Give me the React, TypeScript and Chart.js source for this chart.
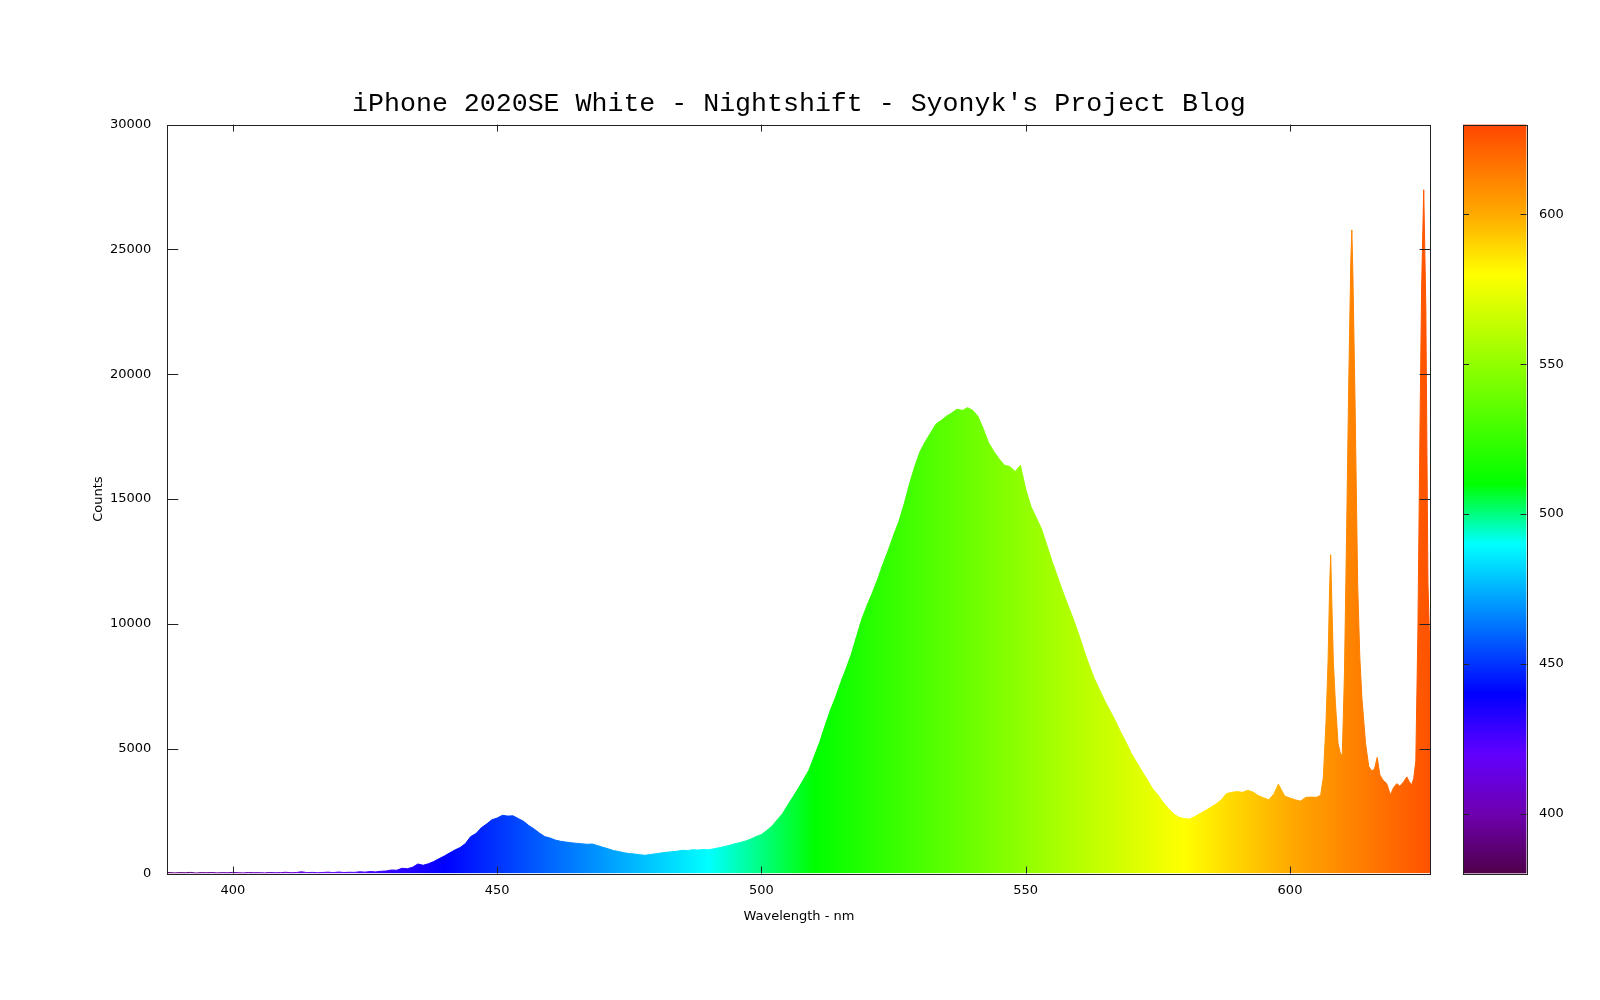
import React, { useEffect, useRef } from "react";
import { Chart, registerables } from "chart.js";

Chart.register(...registerables);

const chartTitle = "iPhone 2020SE White - Nightshift - Syonyk's Project Blog";
const xAxisTitle = "Wavelength - nm";
const yAxisTitle = "Counts";

const wavelengthNm: number[] = [
  387.6, 389, 390, 391, 392, 393, 394, 395, 396, 397, 398, 399, 400, 401, 402, 403, 404, 405, 406, 407, 408, 409,
  410, 411, 412, 413, 414, 415, 416, 417, 418, 419, 420, 421, 422, 423, 424, 425, 426, 427, 428, 429,
  430, 431, 432, 433, 434, 435, 436, 437, 438, 439, 440, 441, 442, 443, 444, 445, 446, 447, 448, 449,
  450, 451, 452, 453, 454, 455, 456, 457, 458, 459, 460, 461, 462, 463, 464, 465, 466, 467, 468, 469,
  470, 471, 472, 473, 474, 475, 476, 477, 478, 479, 480, 481, 482, 483, 484, 485, 486, 487, 488, 489,
  490, 491, 492, 493, 494, 495, 496, 497, 498, 499, 500, 501, 502, 503, 504, 505, 506, 507, 508, 509,
  510, 511, 512, 513, 514, 515, 516, 517, 518, 519, 520, 521, 522, 523, 524, 525, 526, 527, 528, 529,
  530, 531, 532, 533, 534, 535, 536, 537, 538, 539, 540, 541, 542, 543, 544, 545, 546, 547, 548, 549,
  550, 551, 552, 553, 554, 555, 556, 557, 558, 559, 560, 561, 562, 563, 564, 565, 566, 567, 568, 569,
  570, 571, 572, 573, 574, 575, 576, 577, 578, 579, 580, 581, 582, 583, 584, 585, 586, 587, 588, 589,
  590, 591, 592, 593, 594, 595, 596, 597, 597.8, 598.5, 599, 600, 601, 602, 603, 604, 605, 605.8,
  606.3, 606.8, 607.2, 607.5, 607.7, 607.9, 608.2, 608.6, 609.1, 609.6, 609.9,
  610.3, 610.7, 611.1, 611.5, 611.7, 611.9, 612.3, 612.8, 613.2, 613.6, 614.3, 614.9,
  615.5, 616.0, 616.5, 617.0, 617.6, 618.3, 619.0, 619.6, 620.2, 620.8, 621.6, 622.1, 622.5,
  623.0, 623.4, 623.8, 624.2, 624.6, 624.9, 625.3, 625.7, 626.1, 626.6,
];

const counts: number[] = [
  40, 25, 35, 30, 45, 20, 35, 30, 40, 25, 35, 30, 45, 30, 25, 40, 30, 35, 25, 40, 30, 35,
  50, 30, 40, 70, 35, 45, 30, 40, 55, 35, 60, 40, 50, 45, 70, 55, 80, 65, 90, 100,
  140, 130, 210, 190, 250, 380, 330, 390, 480, 590, 700, 820, 940, 1040, 1200, 1480, 1600, 1830, 1980, 2150,
  2220, 2330, 2300, 2310, 2200, 2090, 1920, 1780, 1620, 1480, 1420, 1340, 1290, 1260, 1230, 1210, 1190, 1170, 1180, 1120,
  1050, 990, 920, 880, 830, 800, 780, 750, 730, 760, 790, 820, 850, 870, 890, 930, 920, 950, 940, 960,
  950, 990, 1030, 1080, 1130, 1190, 1240, 1300, 1380, 1480, 1560, 1720, 1900, 2150, 2400, 2750, 3080, 3420, 3780, 4150,
  4700, 5250, 5900, 6520, 7050, 7650, 8200, 8780, 9500, 10200, 10750, 11250, 11800, 12400, 12950, 13550, 14100, 14800, 15600, 16300,
  16900, 17300, 17650, 18000, 18150, 18320, 18450, 18600, 18550, 18660, 18550, 18300, 17800, 17250, 16900, 16600, 16350, 16300, 16100, 16350,
  15400, 14700, 14250, 13800, 13150, 12500, 11900, 11300, 10750, 10200, 9600, 8950, 8350, 7800, 7350, 6900, 6500, 6100, 5650, 5250,
  4800, 4450, 4100, 3750, 3400, 3150, 2850, 2600, 2380, 2250, 2200, 2180, 2280, 2400, 2520, 2650, 2780, 2950, 3200, 3250,
  3280, 3250, 3330, 3260, 3120, 3030, 2950, 3200, 3580, 3300, 3100, 3020, 2950, 2900, 3050, 3060, 3050, 3130,
  3850, 6000, 8500, 11500, 12770, 11000, 8500, 6800, 5200, 4750, 4800,
  8000, 13500, 19500, 24500, 25780, 24000, 19000, 11600, 8700, 7040, 5200, 4290,
  4100, 4200, 4650, 3950, 3740, 3600, 3150, 3440, 3600, 3500, 3700, 3870, 3700,
  3550, 3800, 4500, 9800, 18000, 23500, 27390, 22650, 11600, 8000,
];

const xTickValues = [400, 450, 500, 550, 600];
const yTickValues = [0, 5000, 10000, 15000, 20000, 25000, 30000];
const colorbarTickValues = [400, 450, 500, 550, 600];
const colorbarRange = [380, 630];

// palette: wavelength (nm) -> colour
const paletteNm = [380, 400, 420, 440, 490, 510, 580, 600, 630];
const paletteColors = [
  "rgb(80,0,75)",
  "rgb(110,0,175)",
  "rgb(97,0,255)",
  "rgb(0,0,255)",
  "rgb(0,255,255)",
  "rgb(0,255,0)",
  "rgb(255,255,0)",
  "rgb(255,170,0)",
  "rgb(255,70,0)",
];

function makeGradient(ctx: CanvasRenderingContext2D, p0: number, p1: number, horizontal: boolean) {
  const g = horizontal ? ctx.createLinearGradient(p0, 0, p1, 0) : ctx.createLinearGradient(0, p0, 0, p1);
  const lo = colorbarRange[0];
  const hi = colorbarRange[1];
  paletteNm.forEach((w, i) => {
    g.addColorStop(Math.min(1, Math.max(0, (w - lo) / (hi - lo))), paletteColors[i]);
  });
  return g;
}

const frameTicks = {
  id: "frameTicks",
  afterDraw(chart: any, _args: any, opts: any) {
    const { ctx, chartArea: a, scales } = chart;
    ctx.save();
    ctx.strokeStyle = opts.color || "#222";
    ctx.lineWidth = 1;
    ctx.beginPath();
    if (opts.xScale && scales[opts.xScale]) {
      const s = scales[opts.xScale];
      s.ticks.forEach((t: any) => {
        const px = Math.round(s.getPixelForValue(t.value)) + 0.5;
        ctx.moveTo(px, a.bottom);
        ctx.lineTo(px, a.bottom - opts.xLen);
        ctx.moveTo(px, a.top);
        ctx.lineTo(px, a.top + opts.xLen);
      });
    }
    if (opts.yScale && scales[opts.yScale]) {
      const s = scales[opts.yScale];
      s.ticks.forEach((t: any) => {
        const py = Math.round(s.getPixelForValue(t.value)) + 0.5;
        ctx.moveTo(a.left, py);
        ctx.lineTo(a.left + opts.yLen, py);
        ctx.moveTo(a.right, py);
        ctx.lineTo(a.right - opts.yLen, py);
      });
    }
    ctx.stroke();
    ctx.strokeRect(Math.round(a.left) + 0.5, Math.round(a.top) + 0.5, Math.round(a.right - a.left), Math.round(a.bottom - a.top));
    ctx.restore();
  },
};

const tickFont = { family: "'DejaVu Sans', sans-serif", size: 13 };

export default function App() {
  const mainRef = useRef<HTMLCanvasElement | null>(null);
  const cbRef = useRef<HTMLCanvasElement | null>(null);

  useEffect(() => {
    if (!mainRef.current || !cbRef.current) return;
    const points = wavelengthNm.map((w, i) => ({ x: w, y: counts[i] }));

    const spectrumFill = (context: any) => {
      const chart = context.chart;
      const xs = chart.scales && chart.scales.x;
      if (!chart.chartArea || !xs) return "rgb(0,255,0)";
      return makeGradient(chart.ctx, xs.getPixelForValue(colorbarRange[0]), xs.getPixelForValue(colorbarRange[1]), true);
    };

    const main = new Chart(mainRef.current, {
      type: "line",
      data: {
        datasets: [
          {
            label: "spectrum",
            data: points,
            fill: "origin",
            backgroundColor: spectrumFill,
            borderColor: spectrumFill,
            borderWidth: 1,
            pointRadius: 0,
            tension: 0,
          },
        ],
      },
      options: {
        animation: false,
        responsive: false,
        devicePixelRatio: 1,
        layout: { padding: { left: 0, right: 169.4, top: 0, bottom: 66.5 } },
        plugins: {
          legend: { display: false },
          tooltip: { enabled: false },
          title: {
            display: true,
            text: chartTitle,
            fullSize: false,
            color: "#000",
            font: { family: "'Liberation Mono', 'Courier New', monospace", size: 26.6, weight: "normal" },
            padding: { top: 88, bottom: 4.7 },
          },
          frameTicks: { xScale: "x", yScale: "y", xLen: 7, yLen: 11, color: "#222" },
        } as any,
        scales: {
          x: {
            type: "linear",
            min: wavelengthNm[0],
            max: wavelengthNm[wavelengthNm.length - 1],
            afterBuildTicks: (s: any) => {
              s.ticks = xTickValues.map((v) => ({ value: v }));
            },
            afterFit: (s: any) => {
              s.height = 60;
            },
            ticks: { color: "#000", font: tickFont, padding: 1, maxRotation: 0, callback: (v: any) => String(v) },
            grid: { display: false },
            border: { display: false },
            title: { display: true, text: xAxisTitle, color: "#000", font: tickFont, padding: { top: 0, bottom: 8.7 } },
          },
          y: {
            type: "linear",
            min: yTickValues[0],
            max: yTickValues[yTickValues.length - 1],
            afterBuildTicks: (s: any) => {
              s.ticks = yTickValues.map((v) => ({ value: v }));
            },
            afterFit: (s: any) => {
              s.width = 167.3;
            },
            ticks: { color: "#000", font: tickFont, padding: 8, callback: (v: any) => String(v) },
            grid: { display: false },
            border: { display: false },
            title: { display: true, text: yAxisTitle, color: "#000", font: tickFont, padding: { top: 91.2, bottom: 0 } },
          },
        },
      },
      plugins: [frameTicks],
    });

    const cb = new Chart(cbRef.current, {
      type: "bar",
      data: {
        labels: ["palette"],
        datasets: [
          {
            label: "palette",
            data: [colorbarRange as any],
            backgroundColor: (context: any) => {
              const chart = context.chart;
              const ys = chart.scales && chart.scales.y;
              if (!chart.chartArea || !ys) return "rgb(0,255,0)";
              return makeGradient(chart.ctx, ys.getPixelForValue(colorbarRange[0]), ys.getPixelForValue(colorbarRange[1]), false);
            },
            borderWidth: 0,
            barPercentage: 1,
            categoryPercentage: 1,
          },
        ],
      },
      options: {
        animation: false,
        responsive: false,
        devicePixelRatio: 1,
        layout: { padding: { left: 23, right: 0, top: 124.5, bottom: 126.5 } },
        plugins: {
          legend: { display: false },
          tooltip: { enabled: false },
          frameTicks: { yScale: "y", yLen: 6, color: "#222" },
        } as any,
        scales: {
          x: { display: false },
          y: {
            position: "right",
            min: colorbarRange[0],
            max: colorbarRange[1],
            afterBuildTicks: (s: any) => {
              s.ticks = colorbarTickValues.map((v) => ({ value: v }));
            },
            afterFit: (s: any) => {
              s.width = 73.5;
            },
            ticks: { color: "#000", font: tickFont, padding: 4.5, callback: (v: any) => String(v) },
            grid: { display: false },
            border: { display: false },
          },
        },
      },
      plugins: [frameTicks],
    });

    return () => {
      main.destroy();
      cb.destroy();
    };
  }, []);

  return (
    <div style={{ position: "fixed", left: 0, top: 0, width: 1600, height: 1000, background: "#fff" }}>
      <canvas ref={mainRef} width={1600} height={1000} style={{ position: "absolute", left: 0, top: 0, width: 1600, height: 1000 }} />
      <canvas ref={cbRef} width={160} height={1000} style={{ position: "absolute", left: 1440, top: 0, width: 160, height: 1000 }} />
    </div>
  );
}
